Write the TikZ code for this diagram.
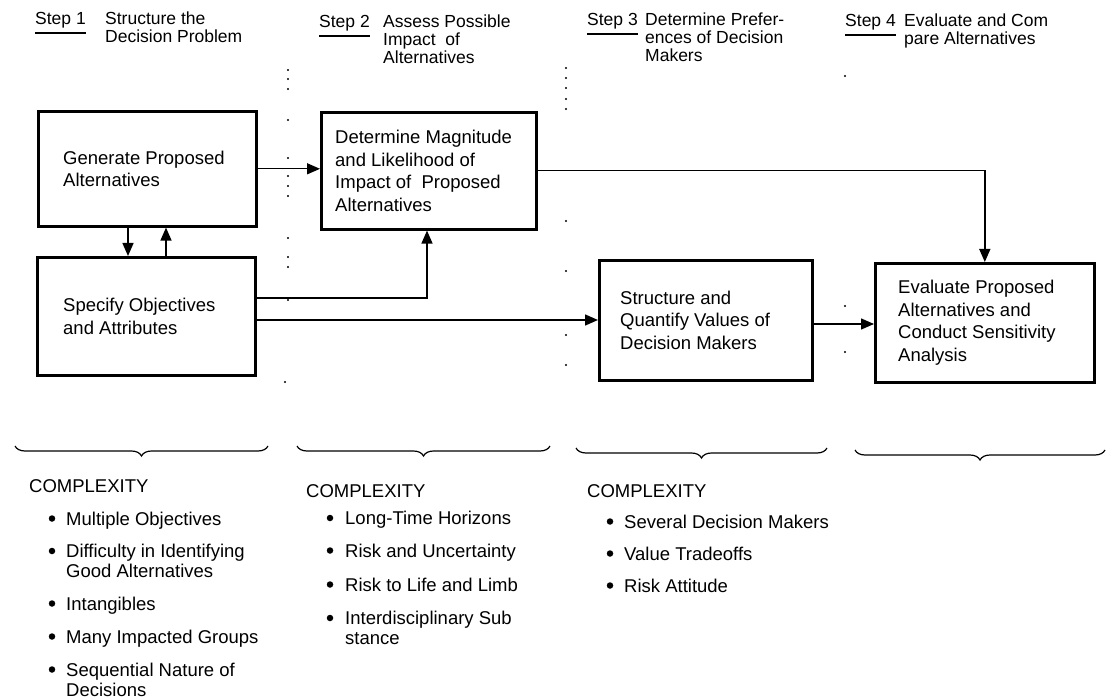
\documentclass[tikz,border=0pt]{standalone}
\usepackage{fontspec}
\setmainfont{Liberation Sans}
\usetikzlibrary{arrows.meta,decorations.pathreplacing}

\newcommand\hdrfont{\fontsize{17.5}{17.5}\selectfont}
\newcommand\boxfont{\fontsize{18.5}{22.5}\selectfont}
\newcommand\listfont{\fontsize{18.5}{20}\selectfont}
% left-aligned block of lines whose base is the first line
\newcommand\stack[1]{\begin{tabular}[t]{@{}l@{}}#1\end{tabular}}

\tikzset{
  procbox/.style={draw, line width=2.6pt, anchor=north west, inner sep=0pt},
  boxtext/.style={anchor=west, inner sep=0pt, align=left, font=\boxfont},
  conn/.style={line width=1.4pt, -{Triangle[length=13pt,width=11pt]}},
  hdr/.style={anchor=base west, inner sep=0pt, font=\hdrfont},
  uline/.style={line width=1.2pt},
  listitem/.style={anchor=base west, inner sep=0pt, font=\listfont},
  bul/.style={circle, fill, inner sep=0pt, minimum size=6.5pt},
  brc/.style={decorate, decoration={brace, mirror, amplitude=10pt}, line width=1.2pt},
  sepdot/.style={circle, fill, inner sep=0pt, minimum size=2.4pt},
}

\begin{document}
\begin{tikzpicture}[x=1pt,y=-1pt]
\useasboundingbox (0,0) rectangle (1107,700);

% ---------- step headings ----------
\node[hdr] (s1) at (35,25) {Step 1};
\node[hdr] (t1) at (105,25) {\stack{Structure the\\Decision Problem}};
\node[hdr] (s2) at (319,28) {Step 2};
\node[hdr] (t2) at (383,28) {\stack{Assess Possible\\Impact\ \ of\\Alternatives}};
\node[hdr] (s3) at (587,26) {Step 3};
\node[hdr] (t3) at (645,26) {\stack{Determine Prefer-\\ences of Decision\\Makers}};
\node[hdr] (s4) at (845,27) {Step 4};
\node[hdr] (t4) at (904,27) {\stack{Evaluate and Com\\pare Alternatives}};
\foreach \s in {s1,s2,s3,s4}
  \draw[uline] ([yshift=-8pt]\s.base west) -- ([yshift=-8pt]\s.base east);

% ---------- process boxes ----------
\node[procbox, minimum width=218pt, minimum height=115pt] (gen) at (37,110) {};
\node[boxtext] (genT) at ([xshift=26pt]gen.west) {Generate Proposed\\Alternatives};

\node[procbox, minimum width=215pt, minimum height=117pt] (det) at (320,111) {};
\node[boxtext] (detT) at ([xshift=15pt]det.west) {Determine Magnitude\\and Likelihood of\\Impact of\ \ Proposed\\Alternatives};

\node[procbox, minimum width=218pt, minimum height=118pt] (spec) at (36,256) {};
\node[boxtext] (specT) at ([xshift=27pt]spec.west) {Specify Objectives\\and Attributes};

\node[procbox, minimum width=213pt, minimum height=120pt] (sqv) at (598,259) {};
\node[boxtext] (sqvT) at ([xshift=22pt]sqv.west) {Structure and\\Quantify Values of\\Decision Makers};

\node[procbox, minimum width=219pt, minimum height=119pt] (eval) at (874,262) {};
\node[boxtext] (evalT) at ([xshift=24pt]eval.west) {Evaluate Proposed\\Alternatives and\\Conduct Sensitivity\\Analysis};

% ---------- connectors ----------
\coordinate (xdn) at (128,0);
\coordinate (xup) at (166,0);
\coordinate (xrise) at (427,0);
\coordinate (yhi) at (0,298);
\coordinate (ylo) at (0,320);
\coordinate (yev) at (0,324);

\draw[conn] (gen.east) -- (gen.east -| det.west);
\draw[conn] (gen.south -| xdn) -- (spec.north -| xdn);
\draw[conn] (spec.north -| xup) -- (gen.south -| xup);
\draw[conn] (spec.east |- yhi) -| (det.south -| xrise);
\draw[conn] (spec.east |- ylo) -- (sqv.west |- ylo);
\draw[conn] (det.east) -| (eval.north);
\draw[conn] (sqv.east |- yev) -- (eval.west |- yev);

% ---------- dotted column separators ----------
\foreach \y in {70,79,89,120,158,176,186,196,238,257,267,300}
  \node[sepdot] at (288,\y) {};
\node[sepdot] at (285,382) {};
\foreach \y in {68,78,88,99,109,221,271,335,365}
  \node[sepdot] at (566,\y) {};
\foreach \y in {76,306,352}
  \node[sepdot] at (845,\y) {};

% ---------- braces ----------
\coordinate (b1a) at (15,446);  \coordinate (b1b) at (268,446);
\coordinate (b2a) at (297,446); \coordinate (b2b) at (550,446);
\coordinate (b3a) at (576,448); \coordinate (b3b) at (827,448);
\coordinate (b4a) at (855,450); \coordinate (b4b) at (1105,450);
\draw[brc] (b1a) -- (b1b);
\draw[brc] (b2a) -- (b2b);
\draw[brc] (b3a) -- (b3b);
\draw[brc] (b4a) -- (b4b);

% ---------- complexity lists ----------
\node[listitem] (c1) at (29,492) {COMPLEXITY};
\node[bul] (c1b1) at (52,518.5) {};
\node[listitem] (c1i1) at (66,525) {Multiple Objectives};
\node[bul] (c1b2) at (52,551) {};
\node[listitem] (c1i2) at (66,557.5) {\stack{Difficulty in Identifying\\Good Alternatives}};
\node[bul] (c1b3) at (52,603.5) {};
\node[listitem] (c1i3) at (66,610) {Intangibles};
\node[bul] (c1b4) at (52,636.5) {};
\node[listitem] (c1i4) at (66,643) {Many Impacted Groups};
\node[bul] (c1b5) at (52,669.5) {};
\node[listitem] (c1i5) at (66,676) {\stack{Sequential Nature of\\Decisions}};

\node[listitem] (c2) at (306,497) {COMPLEXITY};
\node[bul] (c2b1) at (330,518) {};
\node[listitem] (c2i1) at (345,524.5) {Long-Time Horizons};
\node[bul] (c2b2) at (330,550.5) {};
\node[listitem] (c2i2) at (345,557) {Risk and Uncertainty};
\node[bul] (c2b3) at (330,584.5) {};
\node[listitem] (c2i3) at (345,591) {Risk to Life and Limb};
\node[bul] (c2b4) at (330,618) {};
\node[listitem] (c2i4) at (345,624.5) {\stack{Interdisciplinary Sub\\stance}};

\node[listitem] (c3) at (587,497) {COMPLEXITY};
\node[bul] (c3b1) at (610,521.5) {};
\node[listitem] (c3i1) at (624,528) {Several Decision Makers};
\node[bul] (c3b2) at (610,553.5) {};
\node[listitem] (c3i2) at (624,560) {Value Tradeoffs};
\node[bul] (c3b3) at (610,585.5) {};
\node[listitem] (c3i3) at (624,592) {Risk Attitude};
\end{tikzpicture}
\end{document}
